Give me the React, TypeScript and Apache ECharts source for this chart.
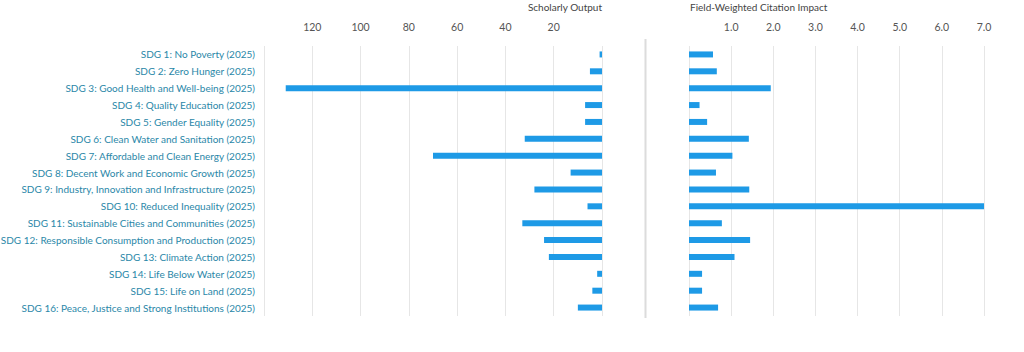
import React, { useEffect, useRef } from "react";
import * as echarts from "echarts";

const categories = [
  "SDG 1: No Poverty (2025)",
  "SDG 2: Zero Hunger (2025)",
  "SDG 3: Good Health and Well-being (2025)",
  "SDG 4: Quality Education (2025)",
  "SDG 5: Gender Equality (2025)",
  "SDG 6: Clean Water and Sanitation (2025)",
  "SDG 7: Affordable and Clean Energy (2025)",
  "SDG 8: Decent Work and Economic Growth (2025)",
  "SDG 9: Industry, Innovation and Infrastructure (2025)",
  "SDG 10: Reduced Inequality (2025)",
  "SDG 11: Sustainable Cities and Communities (2025)",
  "SDG 12: Responsible Consumption and Production (2025)",
  "SDG 13: Climate Action (2025)",
  "SDG 14: Life Below Water (2025)",
  "SDG 15: Life on Land (2025)",
  "SDG 16: Peace, Justice and Strong Institutions (2025)",
];

const scholarlyOutput = [1, 5, 131, 7, 7, 32, 70, 13, 28, 6, 33, 24, 22, 2, 4, 10];
const fwci = [0.57, 0.66, 1.94, 0.25, 0.43, 1.42, 1.03, 0.64, 1.43, 7.0, 0.78, 1.45, 1.08, 0.31, 0.31, 0.69];

const leftTitle = "Scholarly Output";
const rightTitle = "Field-Weighted Citation Impact";

const FONT = "Lato";
const BAR = "#1e9ae6";
const LABEL = "#2a87a8";
const GRID = "#e6e6e6";

export default function App() {
  const ref = useRef<HTMLDivElement>(null);
  useEffect(() => {
    if (!ref.current) return;
    const chart = echarts.init(ref.current, null, { renderer: "svg" });
    const top = 46;
    const bottom = 352 - 316;
    chart.setOption({
      animation: false,
      textStyle: { fontFamily: FONT },
      grid: [
        { left: 264, right: 1024 - 602, top, bottom, containLabel: false, outerBoundsMode: "none" },
        { left: 689, right: 1024 - 984, top, bottom, containLabel: false, outerBoundsMode: "none" },
      ],
      xAxis: [
        {
          gridIndex: 0,
          type: "value",
          position: "top",
          inverse: true,
          min: 0,
          max: 140,
          interval: 20,
          axisLine: { show: false },
          axisTick: { show: false },
          splitLine: { show: true, lineStyle: { color: GRID, width: 1 } },
          axisLabel: {
            color: "#555",
            fontSize: 10.5,
            fontFamily: FONT,
            margin: 14,
            formatter: (v: number) => (v === 0 || v === 140 ? "" : String(v)),
          },
        },
        {
          gridIndex: 1,
          type: "value",
          position: "top",
          min: 0,
          max: 7,
          interval: 1,
          axisLine: { show: false },
          axisTick: { show: false },
          splitLine: { show: true, lineStyle: { color: GRID, width: 1 } },
          axisLabel: {
            color: "#555",
            fontSize: 10.5,
            fontFamily: FONT,
            margin: 14,
            formatter: (v: number) => (v === 0 ? "" : v.toFixed(1)),
          },
        },
      ],
      yAxis: [
        {
          gridIndex: 0,
          type: "category",
          data: categories,
          inverse: true,
          position: "left",
          axisLine: { show: false },
          axisTick: { show: false },
          splitLine: { show: false },
          axisLabel: { color: LABEL, fontSize: 10, fontFamily: FONT, margin: 9 },
        },
        {
          gridIndex: 1,
          type: "category",
          data: categories,
          inverse: true,
          axisLine: { show: false },
          axisTick: { show: false },
          axisLabel: { show: false },
        },
      ],
      series: [
        {
          type: "bar",
          xAxisIndex: 0,
          yAxisIndex: 0,
          data: scholarlyOutput,
          barWidth: 6,
          itemStyle: { color: BAR },
        },
        {
          type: "bar",
          xAxisIndex: 1,
          yAxisIndex: 1,
          data: fwci,
          barWidth: 6,
          itemStyle: { color: BAR },
        },
      ],
      graphic: [
        {
          type: "line",
          shape: { x1: 645.5, y1: 39, x2: 645.5, y2: 318 },
          style: { stroke: "#dcdcdc", lineWidth: 2 },
        },
        {
          type: "text",
          x: 602,
          y: 7,
          style: {
            text: leftTitle,
            fill: "#444",
            font: `10px ${FONT}`,
            textAlign: "right",
            textVerticalAlign: "middle",
          },
        },
        {
          type: "text",
          x: 690,
          y: 7,
          style: {
            text: rightTitle,
            fill: "#444",
            font: `10px ${FONT}`,
            textAlign: "left",
            textVerticalAlign: "middle",
          },
        },
      ],
    });
    return () => chart.dispose();
  }, []);
  return <div ref={ref} style={{ width: 1024, height: 352, position: "absolute", left: 0, top: 0 }} />;
}
